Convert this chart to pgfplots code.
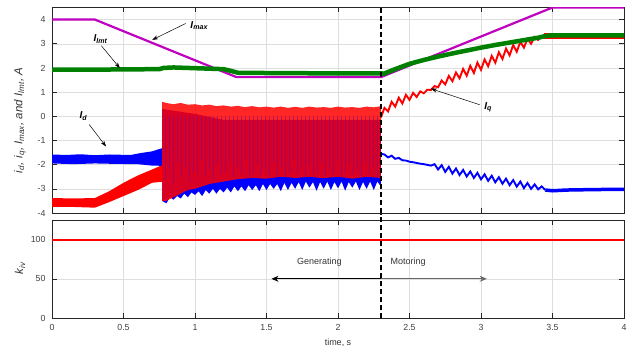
\documentclass[border=0pt]{standalone}
\usepackage{fontspec}
\setmainfont{Liberation Sans}
\usepackage{pgfplots}
\pgfplotsset{compat=1.18}
\usetikzlibrary{arrows.meta}
\definecolor{mag}{RGB}{191,0,191}
\definecolor{grn}{RGB}{0,128,0}
\definecolor{axc}{RGB}{38,38,38}
\definecolor{kred}{RGB}{255,0,0}
\definecolor{kblue}{RGB}{0,0,255}
\definecolor{streak}{RGB}{120,10,140}
\pgfplotsset{
  base/.style={
    scale only axis, width=572pt,
    xmin=0, xmax=4,
    xtick={0,0.5,1,1.5,2,2.5,3,3.5,4},
    grid=major, major grid style={black!13, line width=0.5pt},
    axis line style={axc, line width=0.6pt},
    tick style={axc, line width=0.6pt}, major tick length=5pt,
    tick align=inside, xtick pos=both, ytick pos=both,
    ticklabel style={font=\fontsize{8.8}{10}\selectfont, text=black!75},
    xticklabel style={yshift=-3pt},
    yticklabel style={xshift=-3pt},
    /pgf/number format/assume math mode=true,
    label style={text=black!80},
  }
}
\newcommand{\ann}[2]{\textbf{\textit{#1}\textsubscript{\textit{#2}}}}
\begin{document}
\begin{tikzpicture}
\useasboundingbox (0,0) rectangle (634pt,348pt);
% ---------------- top axis ----------------
\begin{axis}[base, at={(52pt,135pt)}, anchor=south west, height=205.5pt,
  ymin=-4, ymax=4.5, ytick={-4,-3,-2,-1,0,1,2,3,4},
  xticklabels={},
  ylabel={\textit{i}\textsubscript{\textit{d}}\textit{, i}\textsubscript{\textit{q}}\textit{, I}\textsubscript{\textit{max}}\textit{, and I}\textsubscript{\textit{lmt}}\textit{, A}},
  ylabel style={at={(axis description cs:-0.056,0.45)}, anchor=center, font=\fontsize{11.5}{13}\selectfont},
]
% I_max
\addplot[draw=mag, line width=2.2pt] coordinates {(0,4)(0.3,4)(1.29,1.62)(2.3,1.62)(3.5,4.5)(4,4.5)};
% I_d initial band
\addplot[fill=kblue, draw=none] coordinates {
 (0,-1.58)(0.1,-1.6)(0.2,-1.57)(0.3,-1.61)(0.4,-1.58)(0.55,-1.6)(0.62,-1.52)(0.7,-1.45)(0.78,-1.3)
 (0.78,-2.05)(0.7,-2.04)(0.6,-1.98)(0.45,-1.97)(0.3,-1.95)(0.15,-1.98)(0,-1.95)};
% I_q initial band
\addplot[fill=kred, draw=none] coordinates {
 (0,-3.38)(0.15,-3.4)(0.3,-3.38)(0.4,-3.1)(0.5,-2.75)(0.6,-2.45)(0.7,-2.2)(0.78,-2.0)
 (0.78,-2.7)(0.7,-2.75)(0.6,-3.05)(0.5,-3.3)(0.4,-3.55)(0.3,-3.78)(0.15,-3.75)(0,-3.75)};
% I_d oscillation region
\addplot[fill=kblue, draw=none] coordinates {
 (0.77,0.3)(1.0,0.1)(1.2,-0.15)(2.3,-0.15)
 (2.3,-2.9)(2.275,-2.7)(2.25,-3.05)(2.225,-2.7)(2.2,-3.0)(2.175,-2.72)(2.15,-3.05)(2.125,-2.7)
 (2.1,-2.95)(2.075,-2.72)(2.05,-3.08)(2.025,-2.7)(2.0,-2.98)(1.975,-2.72)(1.95,-3.05)(1.925,-2.7)
 (1.9,-3.0)(1.875,-2.72)(1.85,-3.08)(1.825,-2.72)(1.8,-2.95)(1.775,-2.7)(1.75,-3.05)(1.725,-2.72)
 (1.7,-3.0)(1.675,-2.75)(1.65,-3.05)(1.625,-2.75)(1.6,-3.1)(1.575,-2.8)(1.55,-3.0)(1.525,-2.8)
 (1.5,-3.05)(1.475,-2.8)(1.45,-3.1)(1.425,-2.85)(1.4,-3.05)(1.375,-2.85)(1.35,-3.1)(1.325,-2.9)
 (1.3,-3.1)(1.275,-2.9)(1.25,-3.15)(1.225,-2.95)(1.2,-3.15)(1.175,-3.0)(1.15,-3.2)(1.125,-3.0)
 (1.1,-3.2)(1.075,-3.05)(1.05,-3.3)(1.025,-3.1)(1.0,-3.25)(0.975,-3.15)(0.95,-3.35)(0.925,-3.2)
 (0.9,-3.4)(0.875,-3.3)(0.85,-3.45)(0.825,-3.35)(0.8,-3.6)(0.77,-3.5)};
% I_q oscillation region
\addplot[fill=kred, fill opacity=0.85, draw=none] coordinates {
 (0.77,0.6)(0.80,0.55)(0.85,0.5)(0.9,0.55)(0.95,0.48)(1.0,0.5)(1.05,0.45)(1.1,0.48)(1.15,0.42)
 (1.2,0.45)(1.25,0.4)(1.3,0.43)(1.35,0.38)(1.4,0.42)(1.45,0.37)(1.5,0.4)(1.55,0.36)(1.6,0.4)
 (1.65,0.35)(1.7,0.39)(1.75,0.35)(1.8,0.4)(1.85,0.36)(1.9,0.38)(1.95,0.35)(2.0,0.4)(2.05,0.36)
 (2.1,0.38)(2.15,0.35)(2.2,0.4)(2.25,0.37)(2.3,0.42)
 (2.3,-2.55)(2.2,-2.5)(2.1,-2.58)(2.0,-2.5)(1.9,-2.56)(1.8,-2.5)(1.7,-2.55)(1.6,-2.5)(1.5,-2.58)
 (1.4,-2.55)(1.3,-2.6)(1.2,-2.7)(1.1,-2.8)(1.0,-3.0)(0.95,-3.05)(0.9,-3.2)(0.85,-3.35)(0.8,-3.5)(0.77,-3.5)};
% streaks inside the oscillation region
\addplot[ycomb, draw=streak, draw opacity=0.5, line width=0.7pt] coordinates {
 (0.79,-2.6)(0.818,-2.2)(0.846,-2.8)(0.874,-1.9)(0.902,-2.5)(0.93,-2.1)(0.958,-2.7)(0.986,-2.3)
 (1.014,-2.4)(1.042,-1.8)(1.07,-2.5)(1.098,-2.2)(1.126,-2.6)(1.154,-2.0)(1.182,-2.4)(1.21,-2.3)
 (1.238,-1.9)(1.266,-2.5)(1.294,-2.2)(1.322,-2.4)(1.35,-1.8)(1.378,-2.5)(1.406,-2.3)(1.434,-2.0)
 (1.462,-2.4)(1.49,-2.2)(1.518,-2.5)(1.546,-1.9)(1.574,-2.4)(1.602,-2.1)(1.63,-2.5)(1.658,-2.3)
 (1.686,-1.8)(1.714,-2.4)(1.742,-2.2)(1.77,-2.5)(1.798,-2.0)(1.826,-2.4)(1.854,-2.3)(1.882,-1.9)
 (1.91,-2.5)(1.938,-2.2)(1.966,-2.4)(1.994,-1.8)(2.022,-2.5)(2.05,-2.3)(2.078,-2.0)(2.106,-2.4)
 (2.134,-2.2)(2.162,-2.5)(2.19,-1.9)(2.218,-2.4)(2.246,-2.1)(2.274,-2.5)};
% I_d after 2.3
\addplot[draw=kblue, line width=1.9pt] coordinates {
 (2.3,-1.55)(2.325,-1.58)(2.35,-1.7)(2.375,-1.63)(2.4,-1.76)(2.425,-1.72)(2.45,-1.82)(2.475,-1.83)
 (2.5,-1.88)(2.525,-1.9)(2.55,-1.93)(2.575,-1.96)(2.6,-1.98)(2.625,-2.01)(2.65,-2.04)(2.675,-1.98)
 (2.7,-2.2)(2.725,-2.02)(2.75,-2.3)(2.775,-2.09)(2.8,-2.37)(2.825,-2.16)(2.85,-2.43)(2.875,-2.22)
 (2.9,-2.49)(2.925,-2.28)(2.95,-2.55)(2.975,-2.34)(3.0,-2.61)(3.025,-2.4)(3.05,-2.67)(3.075,-2.46)
 (3.1,-2.73)(3.125,-2.52)(3.15,-2.79)(3.175,-2.58)(3.2,-2.85)(3.225,-2.64)(3.25,-2.91)(3.275,-2.7)
 (3.3,-2.97)(3.325,-2.76)(3.35,-3.0)(3.375,-2.82)(3.4,-3.02)(3.425,-2.9)(3.45,-3.05)};
\addplot[draw=kblue, line width=3.5pt] coordinates {(3.45,-3.05)(3.5,-3.08)(3.6,-3.05)(3.8,-3.03)(4,-3.02)};
% I_q after 2.3
\addplot[draw=kred, line width=1.9pt] coordinates {
 (2.3,-0.05)(2.325,0.35)(2.35,0.2)(2.375,0.6)(2.4,0.4)(2.425,0.77)(2.45,0.53)(2.475,0.89)
 (2.5,0.68)(2.525,0.97)(2.55,0.8)(2.575,1.03)(2.6,0.95)(2.625,1.1)(2.65,1.09)(2.675,1.25)
 (2.7,1.2)(2.725,1.48)(2.75,1.32)(2.775,1.67)(2.8,1.45)(2.825,1.81)(2.85,1.57)(2.875,1.96)
 (2.9,1.68)(2.925,2.09)(2.95,1.79)(2.975,2.22)(3.0,1.92)(3.025,2.35)(3.05,2.07)(3.075,2.5)
 (3.1,2.22)(3.125,2.65)(3.15,2.37)(3.175,2.8)(3.2,2.52)(3.225,2.95)(3.25,2.67)(3.275,3.08)
 (3.3,2.84)(3.325,3.2)(3.35,3.0)(3.375,3.28)(3.4,3.16)(3.425,3.32)(3.45,3.3)};
\addplot[fill=kred, draw=none] coordinates {(3.44,3.18)(4,3.18)(4,3.46)(3.44,3.46)};
% I_lmt
\addplot[draw=grn, line width=4.5pt] coordinates {
 (0,1.93)(0.3,1.93)(0.5,1.94)(0.75,1.95)(0.78,2.0)(0.85,2.02)(1.0,1.99)(1.1,1.97)(1.2,1.95)
 (1.25,1.88)(1.3,1.8)(1.5,1.79)(1.8,1.78)(2.0,1.77)(2.3,1.78)(2.32,1.76)(2.35,1.83)(2.4,1.95)
 (2.45,2.06)(2.5,2.17)(2.6,2.33)(2.7,2.47)(2.8,2.6)(2.9,2.72)(3.0,2.84)(3.1,2.95)(3.2,3.05)
 (3.3,3.15)(3.4,3.25)(3.45,3.32)(3.5,3.35)(4,3.35)};
% mode boundary
\addplot[draw=black, line width=1.8pt, dash pattern=on 5pt off 3pt] coordinates {(2.3,-4)(2.3,4.5)};
% annotations
\node[font=\fontsize{10}{11}\selectfont] at (axis cs:1.03,3.76) {\ann{I}{max}};
\draw[-{Stealth[length=6pt,width=4pt]}, line width=0.5pt] (axis cs:0.935,3.84) -- (axis cs:0.70,3.16);
\node[font=\fontsize{10}{11}\selectfont] at (axis cs:0.34,3.2) {\ann{I}{lmt}};
\draw[-{Stealth[length=6pt,width=4pt]}, line width=0.5pt] (axis cs:0.345,2.92) -- (axis cs:0.475,1.99);
\node[font=\fontsize{10}{11}\selectfont] at (axis cs:0.22,0.0) {\ann{I}{d}};
\draw[-{Stealth[length=6pt,width=4pt]}, line width=0.5pt] (axis cs:0.26,-0.34) -- (axis cs:0.378,-1.25);
\node[font=\fontsize{10}{11}\selectfont] at (axis cs:3.05,0.38) {\ann{I}{q}};
\draw[-{Stealth[length=6pt,width=4pt]}, line width=0.5pt] (axis cs:2.99,0.48) -- (axis cs:2.65,1.14);
\end{axis}
% ---------------- bottom axis ----------------
\begin{axis}[base, at={(52pt,30pt)}, anchor=south west, height=98pt,
  ymin=0, ymax=125, ytick={0,50,100}, clip=false,
  xlabel={time, s},
  xlabel style={at={(axis description cs:0.5,0)}, anchor=center, yshift=-25pt, font=\fontsize{9}{10}\selectfont},
  ylabel={\textit{k}\textsubscript{\textit{iv}}},
  ylabel style={at={(axis description cs:-0.056,0.51)}, anchor=center, font=\fontsize{11.5}{13}\selectfont},
]
\addplot[draw=kred, line width=2pt] coordinates {(0,100)(4,100)};
\addplot[draw=black, line width=1.8pt, dash pattern=on 5pt off 3pt] coordinates {(2.3,0)(2.3,133)};
\draw[-{Stealth[length=7pt,width=6pt]}, line width=0.7pt, black] (axis cs:2.3,50) -- (axis cs:1.535,50);
\draw[-{Stealth[length=7pt,width=6pt]}, line width=0.7pt, black!60] (axis cs:2.3,50) -- (axis cs:3.04,50);
\node[font=\fontsize{9}{10}\selectfont, text=black!80] at (axis cs:1.87,71.5) {Generating};
\node[font=\fontsize{9}{10}\selectfont, text=black!80] at (axis cs:2.49,71.5) {Motoring};
\end{axis}
\end{tikzpicture}
\end{document}
